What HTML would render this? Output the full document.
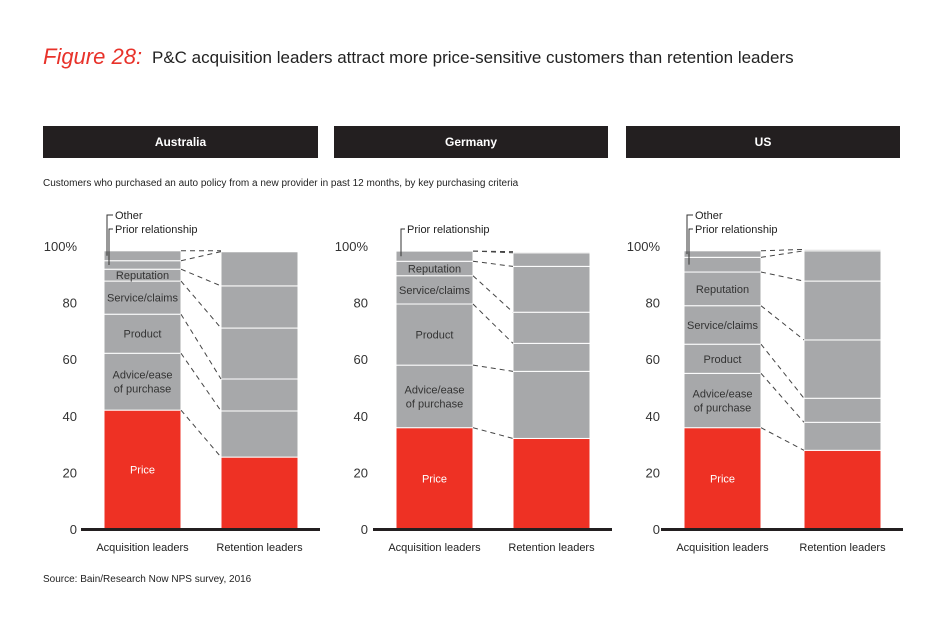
<!DOCTYPE html>
<html><head><meta charset="utf-8"><style>
body{margin:0;background:#fff;width:950px;height:619px;overflow:hidden;font-family:"Liberation Sans",sans-serif;}
svg text{font-family:"Liberation Sans",sans-serif;}
</style></head><body>
<svg id="chart" width="950" height="619" xmlns="http://www.w3.org/2000/svg">
<text x="43" y="64" font-family="Liberation Serif" font-style="italic" font-size="22" fill="#e8322a">Figure 28:</text>
<text x="152" y="63" font-size="17" fill="#222">P&amp;C acquisition leaders attract more price-sensitive customers than retention leaders</text>
<text x="43" y="186" font-size="10" fill="#222">Customers who purchased an auto policy from a new provider in past 12 months, by key purchasing criteria</text>
<text x="43" y="582" font-size="10" fill="#222">Source: Bain/Research Now NPS survey, 2016</text>
<g id="panels"></g>
</svg>
<script>
const countries = ["Australia","Germany","US"];
const segments = ["Price","Advice/ease of purchase","Product","Service/claims","Reputation","Prior relationship","Other"];
const ticks = [0,20,40,60,80,100];
const ausAcq = [42,20.1,13.8,11.7,4.2,3,3.5];
const ausRet = [25.4,16.3,11.3,18,14.9,12.1,0.3];
const gerAcq = [35.8,22.1,21.6,10,5.1,3.6,0];
const gerRet = [32,23.7,9.9,11,16.2,4.8,0.4];
const usAcq = [35.8,19.2,10.3,13.6,11.9,5.2,2.3];
const usRet = [27.8,9.9,8.5,20.6,20.8,10.7,0.5];
const acqData=[ausAcq,gerAcq,usAcq], retData=[ausRet,gerRet,usRet];
const showOther=[true,false,true];

const NS="http://www.w3.org/2000/svg";
const g=document.getElementById('panels');
const panelX=[43,334,626], panelW=[275,274,274];
const barOff=[[61,178],[62,179],[58,178]];
const BW=77, Y0=529, PX=2.83;
function y(v){return Y0-v*PX;}
function mk(tag,attrs,parent){const e=document.createElementNS(NS,tag);for(const k in attrs)e.setAttribute(k,attrs[k]);(parent||g).appendChild(e);return e;}
function txt(s,attrs,parent){const e=mk('text',attrs,parent);e.textContent=s;return e;}

countries.forEach((c,i)=>{
  const px=panelX[i];
  const hdr=mk('rect',{x:px,y:126,width:panelW[i],height:32,fill:'#231f20'});
  
  
  const ht=txt(c,{x:px+panelW[i]/2,y:146,'text-anchor':'middle','font-size':12,'font-weight':'bold',fill:'#fff'});
  
  
  const ax=px+barOff[i][0], rx=px+barOff[i][1];
  ticks.forEach(t=>{
    const tl=txt(t===100?'100%':String(t),{x:px+34,y:y(t)+5,'text-anchor':'end','font-size':13,fill:'#333'});
    
    
  });
  [[ax,acqData[i]],[rx,retData[i]]].forEach(([bx,vals],bi)=>{
    let cum=0;
    vals.forEach((v,si)=>{
      if(v<=0){return;}
      const r=mk('rect',{x:bx,y:y(cum+v),width:BW,height:v*PX,fill:si===0?'#ee3124':'#a7a8aa',stroke:'#fff','stroke-width':1});
      
      
      if(bi===0 && si<5){
        const lines=segments[si]==='Advice/ease of purchase'?['Advice/ease','of purchase']:[segments[si]];
        const mid=y(cum+v/2);
        lines.forEach((l,li)=>{
          const t=txt(l,{x:bx+BW/2,y:mid+4+(li-(lines.length-1)/2)*14,'text-anchor':'middle','font-size':11,fill:si===0?'#fff':'#333'});
          
          
        });
      }
      cum+=v;
    });
  });
  // connectors
  let ca=0,cr=0;
  const acq=acqData[i],ret=retData[i];
  for(let s=0;s<acq.length;s++){
    const l=mk('line',{x1:ax+BW,y1:y(ca),x2:rx,y2:y(cr),stroke:'#444','stroke-width':1,'stroke-dasharray':'5,4'});
    
    
    ca+=acq[s];cr+=ret[s];
  }
  const l=mk('line',{x1:ax+BW,y1:y(ca),x2:rx,y2:y(cr),stroke:'#444','stroke-width':1,'stroke-dasharray':'5,4'});
  
  
  // axis
  const axl=mk('rect',{x:ax-23,y:Y0-1,width:rx+BW+22-(ax-23),height:3,fill:'#231f20'});
  
  
  const xl1=txt('Acquisition leaders',{x:ax+BW/2,y:551,'text-anchor':'middle','font-size':11,fill:'#222'});
  
  
  const xl2=txt('Retention leaders',{x:rx+BW/2,y:551,'text-anchor':'middle','font-size':11,fill:'#222'});
  
  
  // annotations
  const priorMid=y(acq.slice(0,5).reduce((a,b)=>a+b,0)+acq[5]/2);
  const pl=mk('path',{d:`M${ax+5},${priorMid} V229 H${ax+9}`,fill:'none',stroke:'#333','stroke-width':1});
  
  
  const pt=txt('Prior relationship',{x:ax+11,y:233,'font-size':11,fill:'#222'});
  
  
  if(showOther[i]){
    const om=y(acq.slice(0,6).reduce((a,b)=>a+b,0)+acq[6]/2);
    const ol=mk('path',{d:`M${ax+3},${om} V215 H${ax+9}`,fill:'none',stroke:'#333','stroke-width':1});
    
    
    const ot=txt('Other',{x:ax+11,y:219,'font-size':11,fill:'#222'});
    
    
  }
});
</script>
</body></html>
